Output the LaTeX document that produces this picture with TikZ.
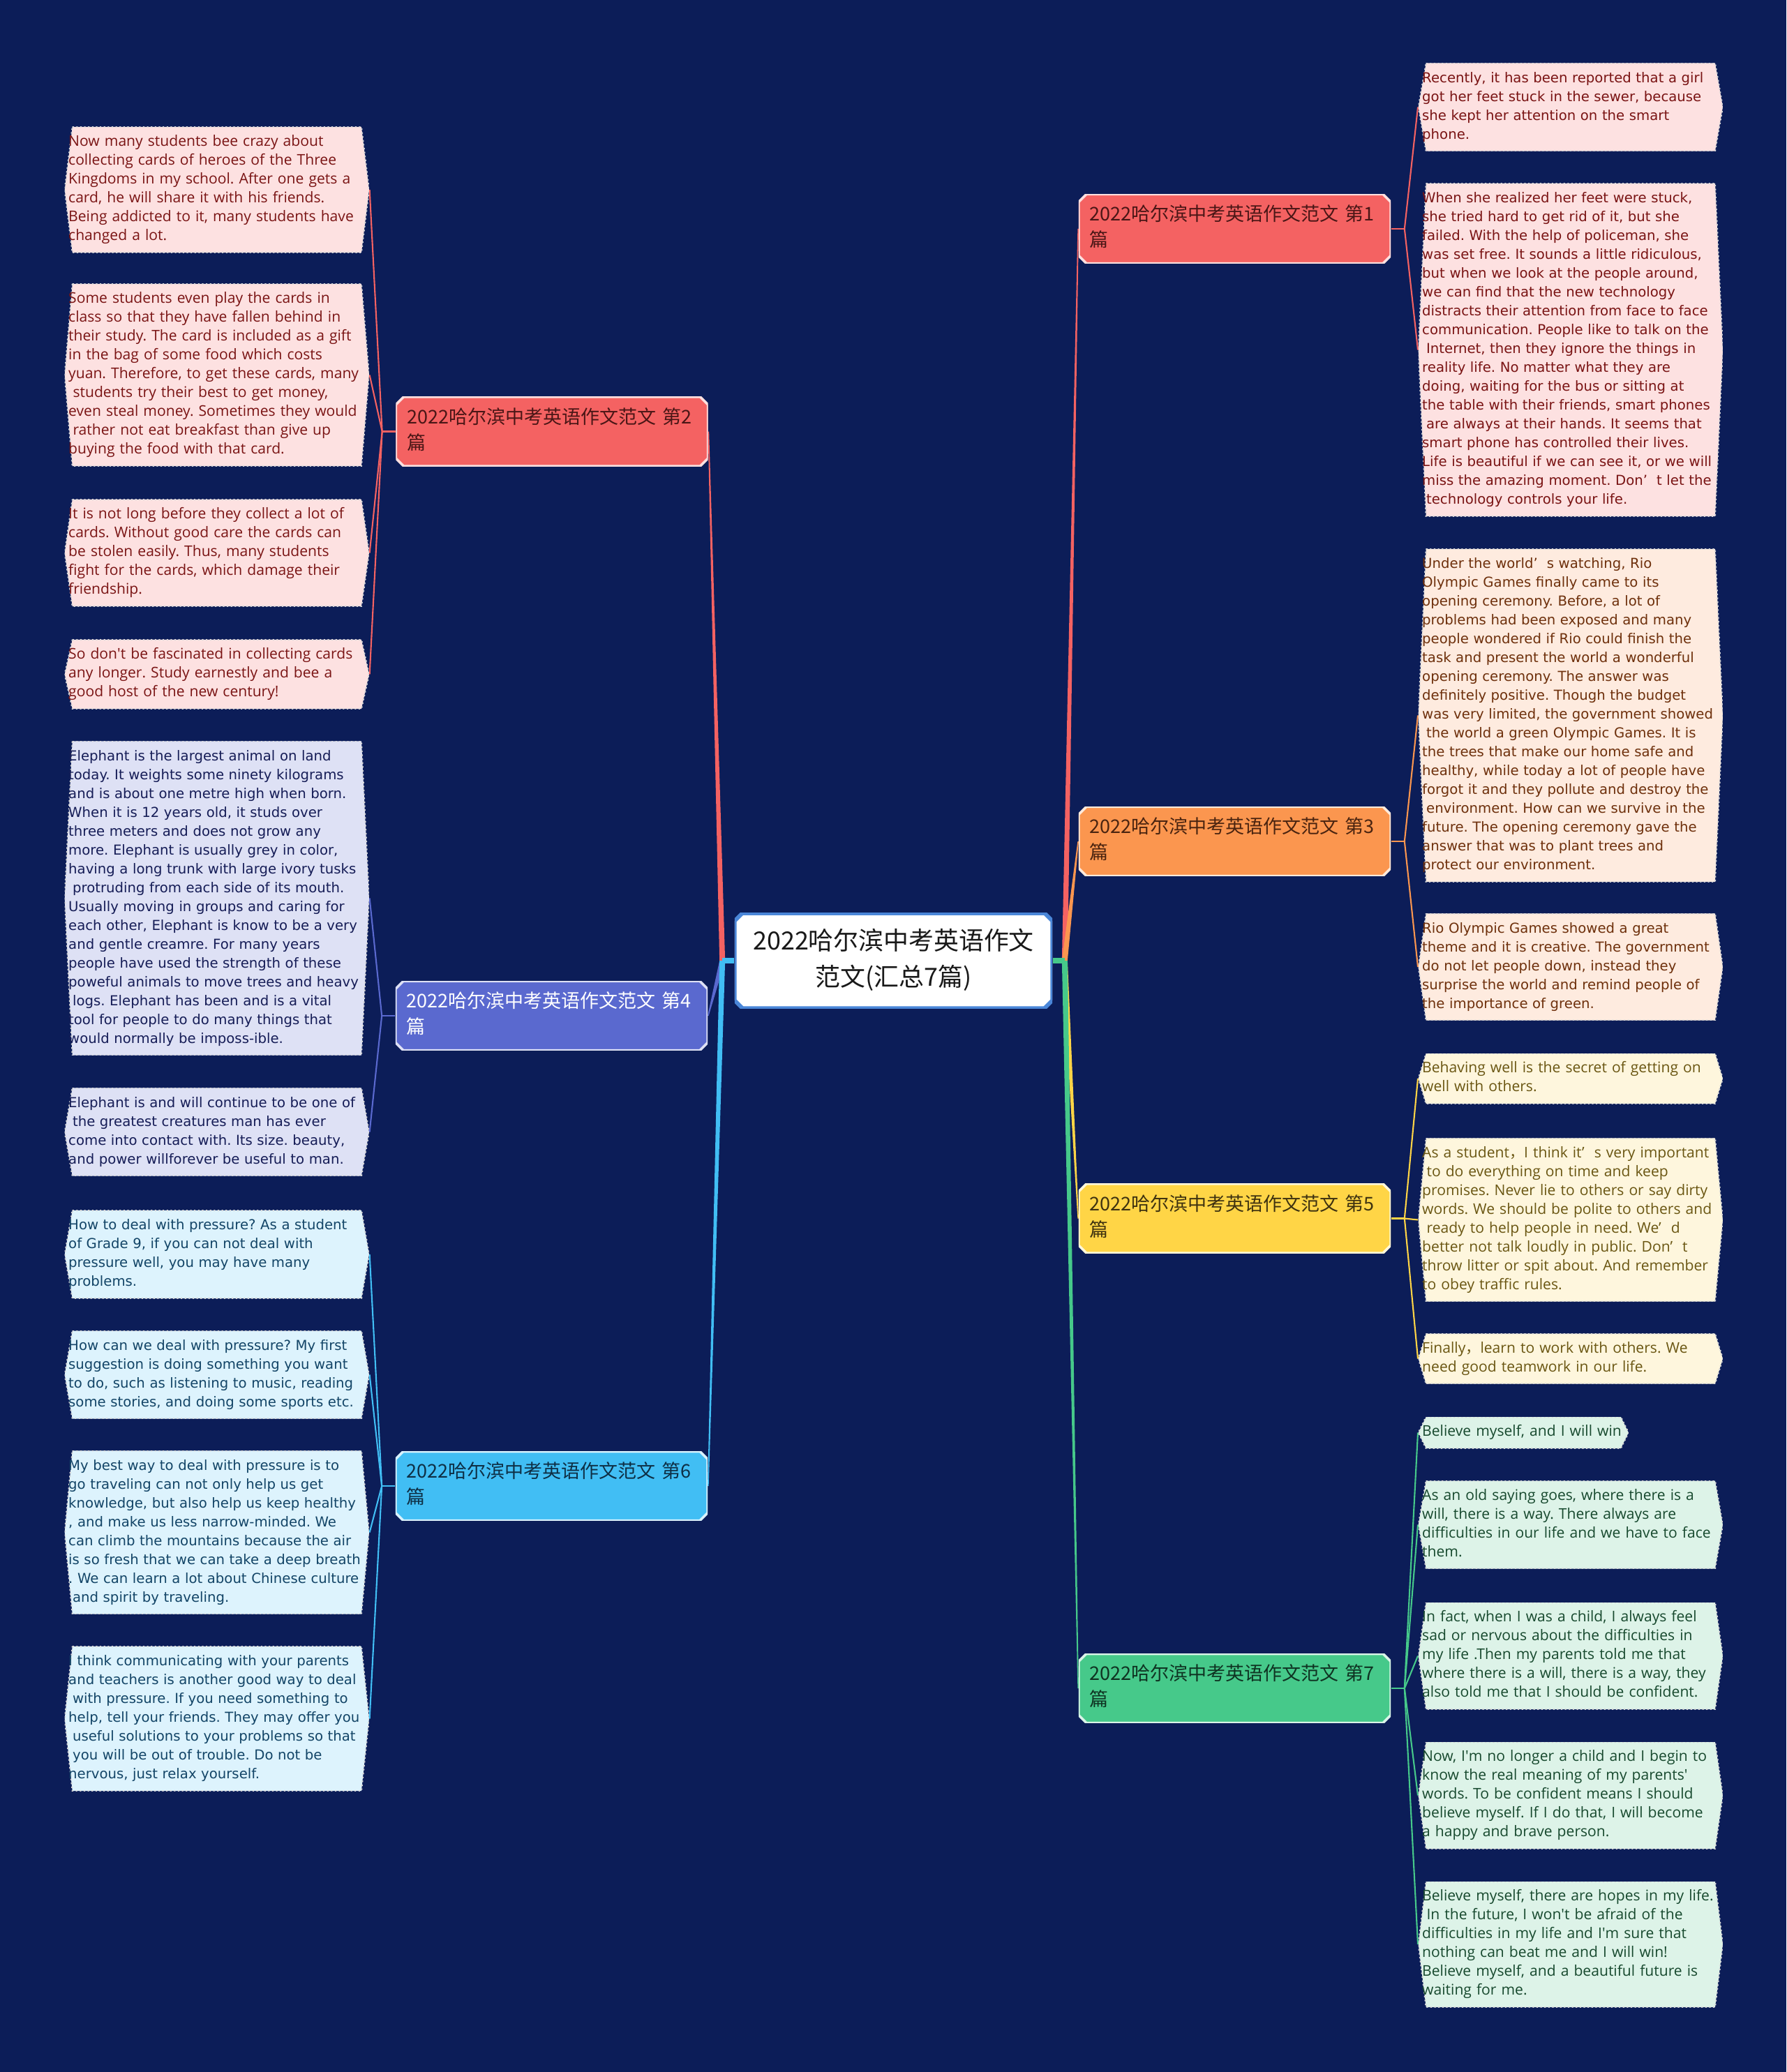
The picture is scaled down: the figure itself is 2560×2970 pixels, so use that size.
\documentclass[tikz,border=0pt]{standalone}
\usepackage{fontspec}
\setmainfont{Open Sans}
\newfontfamily\cjk{Noto Sans CJK SC}
\newfontfamily\verd{DejaVu Sans}
\usetikzlibrary{calc,backgrounds}
\frenchspacing

\definecolor{bgNavy}{HTML}{0C1D58}
\definecolor{rootBlue}{HTML}{4A86D8}
\definecolor{redFill}{HTML}{F46262}\definecolor{redLeaf}{HTML}{FDE1E1}
\definecolor{redInk}{HTML}{7A1414}\definecolor{redDark}{HTML}{4A1616}
\definecolor{oraFill}{HTML}{FB964F}\definecolor{oraLeaf}{HTML}{FEEBDF}
\definecolor{oraInk}{HTML}{6E300C}\definecolor{oraDark}{HTML}{4A2410}
\definecolor{yelFill}{HTML}{FFD546}\definecolor{yelLeaf}{HTML}{FEF6DD}
\definecolor{yelInk}{HTML}{6A5612}\definecolor{yelDark}{HTML}{3E3210}
\definecolor{grnFill}{HTML}{46C98A}\definecolor{grnLeaf}{HTML}{DDF3E8}
\definecolor{grnInk}{HTML}{17492E}\definecolor{grnDark}{HTML}{0F3322}
\definecolor{purFill}{HTML}{5A69CF}\definecolor{purLeaf}{HTML}{DEE1F5}
\definecolor{purInk}{HTML}{161D57}
\definecolor{cyaFill}{HTML}{41BEF4}\definecolor{cyaLeaf}{HTML}{DDF3FD}
\definecolor{cyaInk}{HTML}{134567}\definecolor{cyaDark}{HTML}{0E2F45}

\newcommand{\leafSeg}{\fontsize{6pt}{7.68pt}\selectfont}
\newcommand{\leafVer}{\verd\fontsize{5.6pt}{7.68pt}\selectfont}
\newcommand{\branchFont}{\cjk\fontsize{7.68pt}{10.5pt}\selectfont}
\newcommand{\rootFont}{\cjk\fontsize{10.2pt}{14.8pt}\selectfont}
\newcommand{\lsp}{\hspace*{0.3em}}
\newcommand{\apos}{\textquotesingle}

\newcommand{\hexpath}[1]{\path[#1] ([xshift=0.11cm]path picture bounding box.north west) -- ([xshift=-0.11cm]path picture bounding box.north east) -- (path picture bounding box.east) -- ([xshift=-0.11cm]path picture bounding box.south east) -- ([xshift=0.11cm]path picture bounding box.south west) -- (path picture bounding box.west) -- cycle;}
\newcommand{\octpath}[1]{\path[#1] ([xshift=0.11cm]path picture bounding box.north west) -- ([xshift=-0.11cm]path picture bounding box.north east) -- ([yshift=-0.11cm]path picture bounding box.north east) -- ([yshift=0.11cm]path picture bounding box.south east) -- ([xshift=-0.11cm]path picture bounding box.south east) -- ([xshift=0.11cm]path picture bounding box.south west) -- ([yshift=0.11cm]path picture bounding box.south west) -- ([yshift=-0.11cm]path picture bounding box.north west) -- cycle;}
\newcommand{\trunk}[3]{\fill[#3] ($(#1)+(-4,0)$) -- ($(#2)+(-0.8,0)$) -- ($(#2)+(0.8,0)$) -- ($(#1)+(4,0)$) -- cycle;}

\tikzset{
  leaf/.style 2 args={fill=bgNavy, inner xsep=0.055cm, inner ysep=0.09cm, text width=4.25cm,
    align=left, text=#2, font=\leafSeg,
    execute at begin node=\strut, execute at end node=\strut,
    path picture={\hexpath{fill=#1, draw=white!70!gray, densely dotted, line width=0.6pt}}},
  branch/.style 2 args={fill=bgNavy, inner xsep=0.16cm, inner ysep=0.126cm, text width=4.15cm,
    align=left, text=#2, font=\branchFont,
    execute at begin node=\strut, execute at end node=\strut,
    path picture={\octpath{fill=#1, draw=white!80!#1, line width=1pt}}},
  rootbox/.style={fill=bgNavy, inner xsep=0.15cm, inner ysep=0.16cm, text width=4.25cm,
    align=center, text=black!90, font=\rootFont,
    execute at begin node=\strut, execute at end node=\strut,
    path picture={\octpath{fill=white, draw=rootBlue, line width=1.6pt}}},
  twig/.style={line width=0.6pt}
}

\begin{document}
\begin{tikzpicture}[x=0.01cm, y=-0.01cm]
\useasboundingbox (0,0) rectangle (2560,2970);
\begin{scope}[on background layer]
  \fill[bgNavy] (0,0) rectangle (2560,2970);
\end{scope}

\node[rootbox] (root) at (1280.5,1377) {2022哈尔滨中考英语作文\\范文(汇总7篇)};

% branches
\node[branch={redFill}{redDark}] (b1) at (1769.5,328) {2022哈尔滨中考英语作文范文 第1\\篇};
\node[branch={redFill}{redDark}] (b2) at (791,618.5) {2022哈尔滨中考英语作文范文 第2\\篇};
\node[branch={oraFill}{oraDark}] (b3) at (1769.5,1206) {2022哈尔滨中考英语作文范文 第3\\篇};
\node[branch={purFill}{white}] (b4) at (790.5,1456) {2022哈尔滨中考英语作文范文 第4\\篇};
\node[branch={yelFill}{yelDark}] (b5) at (1769.5,1746.5) {2022哈尔滨中考英语作文范文 第5\\篇};
\node[branch={cyaFill}{cyaDark}] (b6) at (790.5,2130) {2022哈尔滨中考英语作文范文 第6\\篇};
\node[branch={grnFill}{grnDark}] (b7) at (1769.5,2420) {2022哈尔滨中考英语作文范文 第7\\篇};

% left leaves
\node[leaf={redLeaf}{redInk}, anchor=west] (l2a) at (92,272) {Now many students bee crazy about\\collecting cards of heroes of the Three\\Kingdoms in my school. After one gets a\\card, he will share it with his friends.\\Being addicted to it, many students have\\changed a lot.};
\node[leaf={redLeaf}{redInk}, anchor=west] (l2b) at (92,537.5) {Some students even play the cards in\\class so that they have fallen behind in\\their study. The card is included as a gift\\in the bag of some food which costs\\yuan. Therefore, to get these cards, many\\\lsp students try their best to get money,\\even steal money. Sometimes they would\\\lsp rather not eat breakfast than give up\\buying the food with that card.};
\node[leaf={redLeaf}{redInk}, anchor=west] (l2c) at (92,792.5) {It is not long before they collect a lot of\\cards. Without good care the cards can\\be stolen easily. Thus, many students\\fight for the cards, which damage their\\friendship.};
\node[leaf={redLeaf}{redInk}, anchor=west] (l2d) at (92,966.5) {So don\apos t be fascinated in collecting cards\\any longer. Study earnestly and bee a\\good host of the new century!};

\node[leaf={purLeaf}{purInk}, font=\leafVer, anchor=west] (l4a) at (92,1287.5) {Elephant is the largest animal on land\\today. It weights some ninety kilograms\\and is about one metre high when born.\\When it is 12 years old, it studs over\\three meters and does not grow any\\more. Elephant is usually grey in color,\\having a long trunk with large ivory tusks\\\lsp protruding from each side of its mouth.\\Usually moving in groups and caring for\\each other, Elephant is know to be a very\\and gentle creamre. For many years\\people have used the strength of these\\poweful animals to move trees and heavy\\\lsp logs. Elephant has been and is a vital\\tool for people to do many things that\\would normally be imposs-ible.};
\node[leaf={purLeaf}{purInk}, font=\leafVer, anchor=west] (l4b) at (92,1622.5) {Elephant is and will continue to be one of\\\lsp the greatest creatures man has ever\\come into contact with. Its size. beauty,\\and power willforever be useful to man.};

\node[leaf={cyaLeaf}{cyaInk}, font=\leafVer, anchor=west] (l6a) at (92,1798) {How to deal with pressure? As a student\\of Grade 9, if you can not deal with\\pressure well, you may have many\\problems.};
\node[leaf={cyaLeaf}{cyaInk}, font=\leafVer, anchor=west] (l6b) at (92,1970.5) {How can we deal with pressure? My first\\suggestion is doing something you want\\to do, such as listening to music, reading\\some stories, and doing some sports etc.};
\node[leaf={cyaLeaf}{cyaInk}, font=\leafVer, anchor=west] (l6c) at (92,2196.5) {My best way to deal with pressure is to\\go traveling can not only help us get\\knowledge, but also help us keep healthy\\, and make us less narrow-minded. We\\can climb the mountains because the air\\is so fresh that we can take a deep breath\\. We can learn a lot about Chinese culture\\\lsp and spirit by traveling.};
\node[leaf={cyaLeaf}{cyaInk}, font=\leafVer, anchor=west] (l6d) at (92,2463.5) {I think communicating with your parents\\and teachers is another good way to deal\\\lsp with pressure. If you need something to\\help, tell your friends. They may offer you\\\lsp useful solutions to your problems so that\\\lsp you will be out of trouble. Do not be\\nervous, just relax yourself.};

% right leaves
\node[leaf={redLeaf}{redInk}, font=\leafVer, anchor=west] (r1a) at (2032,153.5) {Recently, it has been reported that a girl\\got her feet stuck in the sewer, because\\she kept her attention on the smart\\phone.};
\node[leaf={redLeaf}{redInk}, font=\leafVer, anchor=west] (r1b) at (2032,501.5) {When she realized her feet were stuck,\\she tried hard to get rid of it, but she\\failed. With the help of policeman, she\\was set free. It sounds a little ridiculous,\\but when we look at the people around,\\we can find that the new technology\\distracts their attention from face to face\\communication. People like to talk on the\\\lsp Internet, then they ignore the things in\\reality life. No matter what they are\\doing, waiting for the bus or sitting at\\the table with their friends, smart phones\\\lsp are always at their hands. It seems that\\smart phone has controlled their lives.\\Life is beautiful if we can see it, or we will\\miss the amazing moment. Don’\ \ t let the\\\lsp technology controls your life.};

\node[leaf={oraLeaf}{oraInk}, font=\leafVer, anchor=west] (r3a) at (2032,1025.5) {Under the world’\ \ s watching, Rio\\Olympic Games finally came to its\\opening ceremony. Before, a lot of\\problems had been exposed and many\\people wondered if Rio could finish the\\task and present the world a wonderful\\opening ceremony. The answer was\\definitely positive. Though the budget\\was very limited, the government showed\\\lsp the world a green Olympic Games. It is\\the trees that make our home safe and\\healthy, while today a lot of people have\\forgot it and they pollute and destroy the\\\lsp environment. How can we survive in the\\future. The opening ceremony gave the\\answer that was to plant trees and\\protect our environment.};
\node[leaf={oraLeaf}{oraInk}, font=\leafVer, anchor=west] (r3b) at (2032,1386) {Rio Olympic Games showed a great\\theme and it is creative. The government\\do not let people down, instead they\\surprise the world and remind people of\\the importance of green.};

\node[leaf={yelLeaf}{yelInk}, anchor=west] (r5a) at (2032,1546) {Behaving well is the secret of getting on\\well with others.};
\node[leaf={yelLeaf}{yelInk}, anchor=west] (r5b) at (2032,1748.5) {As a student{\cjk ，}I think it’\ \ s very important\\\lsp to do everything on time and keep\\promises. Never lie to others or say dirty\\words. We should be polite to others and\\\lsp ready to help people in need. We’\ \ d\\better not talk loudly in public. Don’\ \ t\\throw litter or spit about. And remember\\to obey traffic rules.};
\node[leaf={yelLeaf}{yelInk}, anchor=west] (r5c) at (2032,1947.5) {Finally{\cjk ，}learn to work with others. We\\need good teamwork in our life.};

\node[leaf={grnLeaf}{grnInk}, text width=2.9cm, anchor=west] (r7a) at (2032,2053.5) {Believe myself, and I will win};
\node[leaf={grnLeaf}{grnInk}, anchor=west] (r7b) at (2032,2185.5) {As an old saying goes, where there is a\\will, there is a way. There always are\\difficulties in our life and we have to face\\them.};
\node[leaf={grnLeaf}{grnInk}, anchor=west] (r7c) at (2032,2373.5) {In fact, when I was a child, I always feel\\sad or nervous about the difficulties in\\my life .Then my parents told me that\\where there is a will, there is a way, they\\also told me that I should be confident.};
\node[leaf={grnLeaf}{grnInk}, anchor=west] (r7d) at (2032,2573.5) {Now, I\apos m no longer a child and I begin to\\know the real meaning of my parents\apos\\words. To be confident means I should\\believe myself. If I do that, I will become\\a happy and brave person.};
\node[leaf={grnLeaf}{grnInk}, anchor=west] (r7e) at (2032,2787) {Believe myself, there are hopes in my life.\\\lsp In the future, I won\apos t be afraid of the\\difficulties in my life and I\apos m sure that\\nothing can beat me and I will win!\\Believe myself, and a beautiful future is\\waiting for me.};

\begin{scope}[on background layer]
  \path (root.west) ++(-17,0) coordinate (jl);
  \path (root.east) ++(17,0) coordinate (jr);
  \trunk{jl}{b2.east}{redFill}
  \trunk{jl}{b4.east}{purFill}
  \trunk{jl}{b6.east}{cyaFill}
  \trunk{jr}{b1.west}{redFill}
  \trunk{jr}{b3.west}{oraFill}
  \trunk{jr}{b5.west}{yelFill}
  \trunk{jr}{b7.west}{grnFill}
  \draw[cyaFill, line width=2.3pt] (root.west) -- (jl);
  \draw[grnFill, line width=2.3pt] (root.east) -- (jr);
  % twigs to the leaves
  \path (b2.west) ++(-19,0) coordinate (j2);
  \path (b4.west) ++(-19,0) coordinate (j4);
  \path (b6.west) ++(-19,0) coordinate (j6);
  \path (b1.east) ++(19,0) coordinate (j1);
  \path (b3.east) ++(19,0) coordinate (j3);
  \path (b5.east) ++(19,0) coordinate (j5);
  \path (b7.east) ++(19,0) coordinate (j7);
  \draw[twig, redFill] (b2.west) -- (j2);
  \draw[twig, purFill] (b4.west) -- (j4);
  \draw[twig, cyaFill] (b6.west) -- (j6);
  \draw[twig, redFill] (b1.east) -- (j1);
  \draw[twig, oraFill] (b3.east) -- (j3);
  \draw[twig, yelFill] (b5.east) -- (j5);
  \draw[twig, grnFill] (b7.east) -- (j7);
  \foreach \n in {l2a,l2b,l2c,l2d} \draw[twig, redFill] (j2) -- (\n.east);
  \foreach \n in {l4a,l4b} \draw[twig, purFill] (j4) -- (\n.east);
  \foreach \n in {l6a,l6b,l6c,l6d} \draw[twig, cyaFill] (j6) -- (\n.east);
  \foreach \n in {r1a,r1b} \draw[twig, redFill] (j1) -- (\n.west);
  \foreach \n in {r3a,r3b} \draw[twig, oraFill] (j3) -- (\n.west);
  \foreach \n in {r5a,r5b,r5c} \draw[twig, yelFill] (j5) -- (\n.west);
  \foreach \n in {r7a,r7b,r7c,r7d,r7e} \draw[twig, grnFill] (j7) -- (\n.west);
\end{scope}
\end{tikzpicture}
\end{document}
